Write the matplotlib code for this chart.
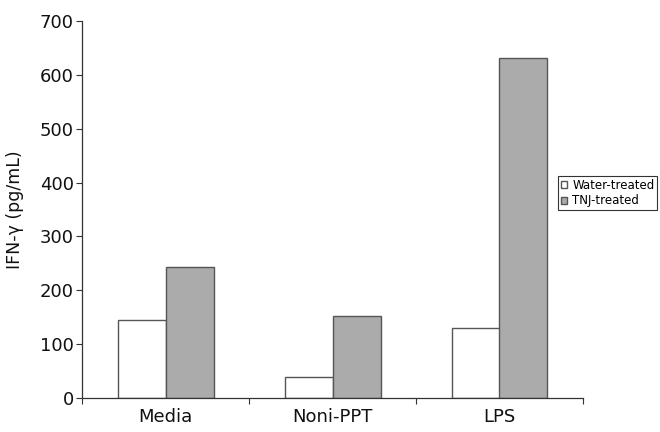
import matplotlib
matplotlib.use("Agg")
import matplotlib.pyplot as plt
import numpy as np

categories = ["Media", "Noni-PPT", "LPS"]
water_treated = [145, 39, 130]
tnj_treated = [244, 153, 632]
series_names = ["Water-treated", "TNJ-treated"]
yticks = [0, 100, 200, 300, 400, 500, 600, 700]

plt.rcParams['font.family'] = ['DejaVu Sans']

fig = plt.figure(figsize=(6.6, 4.32), dpi=100)
ax = fig.add_axes([82/660, 34/432, (583-82)/660, (398-21)/432])

x = np.arange(len(categories))
w = 48/167
edge = '#555555'
ax.bar(x - w/2, water_treated, width=w, color='white', edgecolor=edge, linewidth=1.0, label=series_names[0])
ax.bar(x + w/2, tnj_treated, width=w, color='#ababab', edgecolor=edge, linewidth=1.0, label=series_names[1])

ax.set_xlim(-0.5, 2.5)
ax.set_ylim(0, 700)
ax.set_yticks(yticks)
ax.tick_params(axis='y', labelsize=13, direction='out', length=4, width=0.8, color='#333333', pad=2,
               labelcolor='#111111')
ax.set_xticks([-0.5, 0.5, 1.5, 2.5])
ax.set_xticklabels([])
ax.tick_params(axis='x', which='major', direction='out', length=4, width=0.8, color='#333333')
ax.set_xticks(x, minor=True)
ax.set_xticklabels(categories, minor=True)
ax.tick_params(axis='x', which='minor', length=0, labelsize=13, pad=7, labelcolor='#111111')

for s in ['top', 'right']:
    ax.spines[s].set_visible(False)
for s in ['left', 'bottom']:
    ax.spines[s].set_color('#333333')
    ax.spines[s].set_linewidth(0.9)

ax.set_ylabel("IFN-γ (pg/mL)", fontsize=12.5, labelpad=11, color='#111111')

leg = ax.legend(loc='upper left', bbox_to_anchor=(558/660, (432-176)/432), bbox_transform=fig.transFigure,
                fontsize=8.5, frameon=True, fancybox=False, edgecolor='black', borderpad=0.25,
                handlelength=0.55, handleheight=0.55, handletextpad=0.4, labelspacing=0.2, borderaxespad=0)
leg.get_frame().set_linewidth(0.8)

fig.savefig("out.png", dpi=100)
